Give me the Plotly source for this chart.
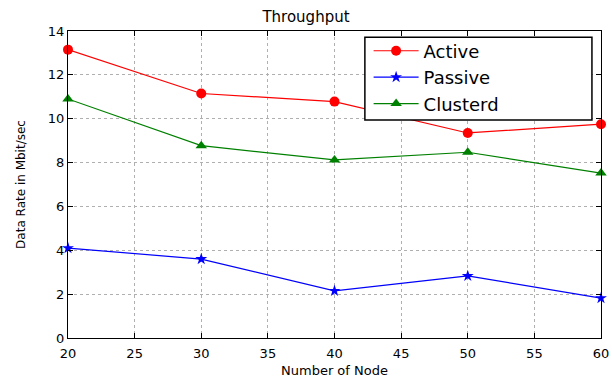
import plotly.graph_objects as go

nodes = [20, 30, 40, 50, 60]
active = [13.15, 11.15, 10.78, 9.35, 9.75]
passive = [4.1, 3.6, 2.15, 2.83, 1.82]
clusterd = [10.9, 8.77, 8.12, 8.47, 7.52]

fig = go.Figure()
fig.add_trace(go.Scatter(x=nodes, y=active, name="Active", mode="lines+markers", legendgroup="a",
                         line=dict(color="#ff0000", width=1.2),
                         marker=dict(symbol="circle", size=10, color="#ff0000"), cliponaxis=False))
fig.add_trace(go.Scatter(x=nodes, y=passive, name="Passive", mode="lines+markers", legendgroup="p",
                         line=dict(color="#0000ff", width=1.2),
                         marker=dict(symbol="star", size=9, color="#0000ff"), cliponaxis=False))
fig.add_trace(go.Scatter(x=nodes, y=clusterd, name="Clusterd", mode="lines+markers", legendgroup="c",
                         line=dict(color="#008000", width=1.2),
                         marker=dict(symbol="triangle-up", size=10, color="#008000"), cliponaxis=False))

axis_common = dict(showline=True, linecolor="black", linewidth=1.2, mirror="allticks",
                   ticks="inside", ticklen=5, tickcolor="black", automargin=False,
                   showgrid=True, gridcolor="#b0b0b0", griddash="dot", gridwidth=1,
                   zeroline=False, tickfont=dict(family="DejaVu Sans", size=13, color="black"))

fig.update_layout(
    width=612, height=381,
    margin=dict(l=68, r=11, t=31, b=43),
    paper_bgcolor="white", plot_bgcolor="white",
    title=dict(text="Throughput", x=0.5, xanchor="center", y=0.955, yanchor="middle",
               font=dict(family="DejaVu Sans", size=15, color="black")),
    xaxis=dict(range=[20, 60], dtick=5, ticklabelstandoff=3,
               title=dict(text="Number of Node", font=dict(family="DejaVu Sans", size=13, color="black"), standoff=6),
               **axis_common),
    yaxis=dict(range=[0, 14], dtick=2,
               title=dict(text="Data Rate in Mbit/sec", font=dict(family="DejaVu Sans", size=12, color="black"), standoff=19),
               **axis_common),
    legend=dict(x=0.564, y=0.995, xanchor="left", yanchor="top",
                bgcolor="rgba(0,0,0,0)", borderwidth=0,
                font=dict(family="DejaVu Sans", size=18, color="black"),
                itemwidth=45, tracegroupgap=0),
    shapes=[dict(type="rect", xref="paper", yref="paper", x0=0.557, x1=0.983, y0=0.710, y1=0.980,
                 line=dict(color="black", width=1.5), fillcolor="white", layer="above")],
    showlegend=True,
)

fig.write_html("out.html")
